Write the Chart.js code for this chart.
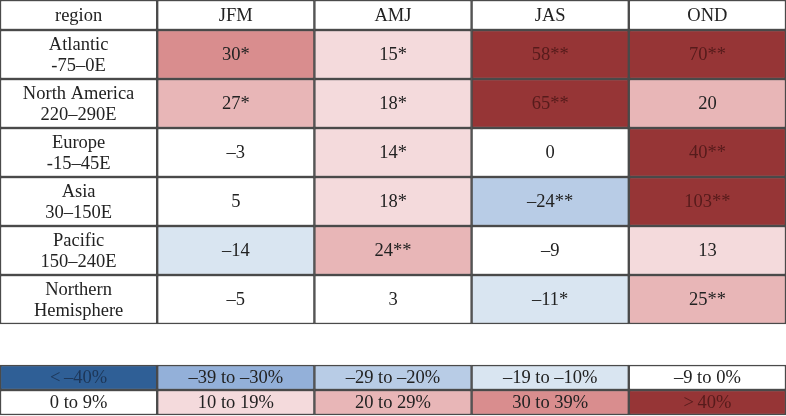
<!DOCTYPE html>
<html>
<head>
<meta charset="utf-8">
<script src="https://cdn.jsdelivr.net/npm/chart.js@4.4.0/dist/chart.umd.min.js"></script>
<style>
html,body{margin:0;padding:0;background:#fff;}
#wrap{width:786px;height:416px;}
</style>
</head>
<body>
<div id="wrap"><canvas id="tableChart" width="786" height="416"></canvas></div>
<script>

// data
const columns = ['region','JFM','AMJ','JAS','OND'];

const regionNames = ['Atlantic','North America','Europe','Asia','Pacific','Northern'];
const regionRanges = ['-75–0E','220–290E','-15–45E','30–150E','150–240E','Hemisphere'];

const jfm = [30, 27, -3, 5, -14, -5];
const amj = [15, 18, 14, 18, 24, 3];
const jas = [58, 65, 0, -24, -9, -11];
const ond = [70, 20, 40, 103, 13, 25];

const jfmSig = [1, 1, 0, 0, 0, 0];
const amjSig = [1, 1, 1, 1, 2, 0];
const jasSig = [2, 2, 0, 2, 0, 1];
const ondSig = [2, 0, 2, 2, 0, 2];

const legendLabels = [
'<\u2009–40%','–39 to –30%','–29 to –20%','–19 to –10%','–9 to 0%',
'0 to 9%','10 to 19%','20 to 29%','30 to 39%','>\u200940%'
];

// colours for the bins, same order as legendLabels
const binColors = [
'#2f5f96','#93b0d9','#b8cce6','#d9e5f1','#ffffff',
'#ffffff','#f4dadc','#e8b6b7','#d98d8e','#963536'
];

function binIndex(v){
if(v <= -40) return 0;
if(v <= -30) return 1;
if(v <= -20) return 2;
if(v <= -10) return 3;
if(v < 0) return 4;
if(v < 10) return 5;
if(v < 20) return 6;
if(v < 30) return 7;
if(v < 40) return 8;
return 9;
}

function textColorFor(bin){
if(bin === 0) return '#1d3657';
if(bin === 9) return '#561b1b';
return '#222';
}

function fmt(v, s){
const n = v < 0 ? '–' + Math.abs(v) : String(v);
return n + '*'.repeat(s);
}

// layout (pixel heights of the rows)
const headerH = 30;
const rowH = 49;
const legendTop = 365;
const legendRowH = 25;

const seasonVals = [jfm, amj, jas, ond];
const seasonSig = [jfmSig, amjSig, jasSig, ondSig];

const datasets = [];

// header row
datasets.push({
data: columns.map(() => [0, headerH]),
backgroundColor: '#ffffff',
cellText: columns.map(c => [c]),
cellTextColor: columns.map(() => '#222')
});

regionNames.forEach((name, r) => {
const top = headerH + r * rowH;
const bg = ['#ffffff'];
const txt = [[name, regionRanges[r]]];
const tc = ['#222'];
seasonVals.forEach((vals, c) => {
const b = binIndex(vals[r]);
bg.push(binColors[b]);
txt.push([fmt(vals[r], seasonSig[c][r])]);
tc.push(textColorFor(b));
});
datasets.push({
data: columns.map(() => [top, top + rowH]),
backgroundColor: bg,
cellText: txt,
cellTextColor: tc
});
});

// legend rows
[0, 1].forEach(lr => {
const top = legendTop + lr * legendRowH;
const idx = [0,1,2,3,4].map(i => lr * 5 + i);
datasets.push({
data: idx.map(() => [top, top + legendRowH]),
backgroundColor: idx.map(i => binColors[i]),
cellText: idx.map(i => [legendLabels[i]]),
cellTextColor: idx.map(i => textColorFor(i))
});
});

datasets.forEach(ds => {
ds.borderColor = '#4a4a4a';
ds.borderWidth = 1.5;
ds.borderSkipped = false;
ds.grouped = false;
ds.barPercentage = 1;
ds.categoryPercentage = 1;
});

const cellTextPlugin = {
id: 'cellText',
afterDatasetsDraw(chart){
const ctx = chart.ctx;
ctx.save();
ctx.font = '18.5px "Liberation Serif", "DejaVu Serif", serif';
ctx.textAlign = 'center';
ctx.textBaseline = 'middle';
chart.data.datasets.forEach((ds, di) => {
const meta = chart.getDatasetMeta(di);
meta.data.forEach((bar, i) => {
const lines = ds.cellText[i];
const cx = bar.x;
const cy = (bar.y + bar.base) / 2;
const lh = 21;
ctx.fillStyle = ds.cellTextColor[i];
lines.forEach((line, k) => {
ctx.fillText(line, cx, cy + (k - (lines.length - 1) / 2) * lh + 1);
});
});
});
ctx.restore();
}
};

const ctx = document.getElementById('tableChart').getContext('2d');

new Chart(ctx, {
type: 'bar',
data: {
labels: columns,
datasets: datasets
},
options: {
responsive: false,
animation: false,
layout: { padding: 0 },
plugins: {
legend: { display: false },
tooltip: { enabled: false }
},
scales: {
x: { display: false, offset: true },
y: { display: false, reverse: true, min: 0, max: 416 }
}
},
plugins: [cellTextPlugin]
});
</script>
</body>
</html>
